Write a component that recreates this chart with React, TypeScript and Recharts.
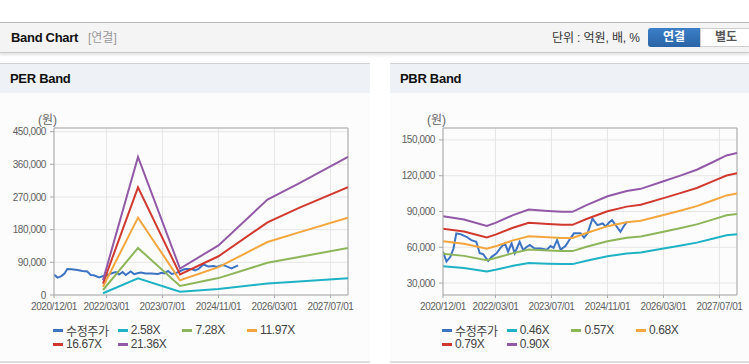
import React from 'react';
import { LineChart, Line, XAxis, YAxis, CartesianGrid, ReferenceLine } from 'recharts';

// x positions are month indexes counted from 2020/12/01
const xTickMonths = [0, 15, 31, 47, 63, 79];
const xTickLabels = ['2020/12/01', '2022/03/01', '2023/07/01', '2024/11/01', '2026/03/01', '2027/07/01'];

const priceMonths = [0, 1, 2.1, 3, 3.8, 5, 6.7, 8.1, 9.5, 10.5, 11.4, 12.9, 13.9, 15.3, 16.7, 17.7, 18.6, 19.6, 20.5, 21.9, 22.9, 23.8, 24.8, 26.2, 27.8, 29.7, 30.7, 31.6, 32.6, 33.6, 35, 36.4, 37.4, 39.3, 40.3, 41.3, 42.7, 44.1, 45.6, 46.5, 47.5, 48.3, 50.7, 51.5, 52.6];
const priceValues = [56300, 48000, 52000, 59000, 71700, 71000, 68800, 66000, 64600, 55000, 54400, 48600, 52000, 55000, 60500, 63300, 56300, 63300, 55000, 64600, 57600, 60000, 62000, 59000, 59000, 58000, 61000, 59500, 66000, 58000, 61000, 67500, 71700, 71700, 68000, 71700, 84000, 78600, 80000, 77500, 81000, 82800, 73000, 77000, 81500];

const perMonths = [14, 24, 36, 47, 61, 70, 84];
const per258 = [4900, 45900, 8800, 16500, 31500, 37200, 45900];
const per728 = [13800, 129600, 24800, 46600, 88800, 104800, 129600];
const per1197 = [22700, 213100, 40700, 76600, 146000, 172400, 213100];
const per1667 = [31700, 296700, 56700, 106700, 200000, 240000, 296700];
const per2136 = [40600, 380200, 72600, 136700, 263000, 307600, 380200];
const perLabels = ['2.58X', '7.28X', '11.97X', '16.67X', '21.36X'];
const perTicks = [0, 90000, 180000, 270000, 360000, 450000];

const pbrMonths = [0, 6, 12.5, 15, 20, 24.5, 30, 34, 37, 41, 47, 52.5, 56.5, 63, 68, 72.5, 77, 81, 84];
const pbr046 = [44000, 42600, 39700, 41100, 44500, 46900, 46300, 45900, 45900, 48700, 52500, 54800, 55700, 58900, 61500, 63900, 67100, 70000, 71000];
const pbr057 = [54500, 52800, 49200, 51000, 55100, 58100, 57300, 56800, 56800, 60400, 65100, 67900, 69000, 73000, 76200, 79200, 83200, 86800, 88000];
const pbr068 = [65000, 63000, 58800, 60800, 65800, 69300, 68400, 67800, 67800, 72000, 77700, 81000, 82300, 87100, 90900, 94500, 99200, 103500, 105000];
const pbr079 = [75500, 73200, 68300, 70600, 76400, 80500, 79500, 78800, 78800, 83700, 90200, 94100, 95700, 101200, 105600, 109700, 115300, 120200, 122000];
const pbr090 = [86000, 83300, 77800, 80500, 87000, 91700, 90500, 89700, 89700, 95300, 102800, 107200, 109000, 115300, 120300, 125000, 131300, 137000, 139000];
const pbrLabels = ['0.46X', '0.57X', '0.68X', '0.79X', '0.90X'];
const pbrTicks = [30000, 60000, 90000, 120000, 150000];

const priceLabel = '수정주가';
const priceColor = '#3c73c2';
const bandColors = ['#1fb2c4', '#8db55a', '#f4a63e', '#d1392f', '#925aa6'];

const FONT = '"Liberation Sans", Arial, "Noto Sans CJK KR", sans-serif';

const toPoints = (months: number[], values: number[]) => months.map((m, i) => ({ m, v: values[i] }));
const priceData = toPoints(priceMonths, priceValues);

const fmtMonth = (m: number) => {
    const i = xTickMonths.indexOf(m);
    return i >= 0 ? xTickLabels[i] : '';
};
const fmtWon = (v: number) => v.toLocaleString('en-US');

const XTick = (props: any) => (
    <text x={props.x} y={props.y} dy="0.71em" textAnchor="middle" fill="#5f5f5f"
        fontSize={10} fontFamily={FONT} letterSpacing={-0.4}>
        {fmtMonth(props.payload.value)}
    </text>
);
const YTick = (props: any) => (
    <text x={props.x} y={props.y} dy="0.355em" textAnchor="end" fill="#5f5f5f"
        fontSize={10} fontFamily={FONT} letterSpacing={-0.4}>
        {fmtWon(props.payload.value)}
    </text>
);

function BandPanel({ title, left, width, yWidth, rightMargin, domain, ticks, bandMonths, bands, labels }: any) {
    const plotLeft = left + yWidth;
    return (
        <>
            <div style={{ position: 'absolute', left, top: 63, width, height: 300, background: '#fcfcfd', borderTop: '1px solid #cfd2d6', borderBottom: '2px solid #dedede', boxSizing: 'border-box' }} />
            <div style={{ position: 'absolute', left, top: 64, width, height: 29, background: '#eef1f6' }} />
            <div style={{ position: 'absolute', left: left + 10, top: 64, height: 29, lineHeight: '30px', fontSize: 13, fontWeight: 'bold', color: '#111', letterSpacing: -0.3, fontFamily: FONT }}>
                {title}
            </div>
            <div style={{ position: 'absolute', left: plotLeft - 16, top: 110, fontSize: 12, color: '#666', fontFamily: FONT }}>(원)</div>
            <div style={{ position: 'absolute', left, top: 100 }}>
                <LineChart width={width} height={215} margin={{ top: 28, right: rightMargin, left: 0, bottom: 0 }}>
                    <CartesianGrid stroke="#e6e6e6" />
                    <XAxis dataKey="m" type="number" domain={[0, 84]} ticks={xTickMonths} allowDataOverflow
                        stroke="#a9a9a9" tickSize={3} tickMargin={5} height={20} tick={<XTick />} />
                    <YAxis type="number" domain={domain} ticks={ticks} allowDataOverflow width={yWidth}
                        stroke="#a9a9a9" tickSize={4} tickMargin={4} tick={<YTick />} />
                    <ReferenceLine x={84} stroke="#a9a9a9" />
                    <ReferenceLine y={domain[1]} stroke="#a9a9a9" />
                    <Line data={priceData} dataKey="v" stroke={priceColor} strokeWidth={2} dot={false} isAnimationActive={false} />
                    {bands.map((vals: number[], i: number) => (
                        <Line key={labels[i]} data={toPoints(bandMonths, vals)} dataKey="v" stroke={bandColors[i]}
                            strokeWidth={2} dot={false} isAnimationActive={false} />
                    ))}
                </LineChart>
            </div>
            {[priceLabel, ...labels].map((name: string, i: number) => {
                const col = i % 4;
                const row = Math.floor(i / 4);
                const color = i === 0 ? priceColor : bandColors[i - 1];
                return (
                    <div key={name} style={{ position: 'absolute', left: plotLeft - 1 + col * 64.7, top: 322 + row * 14, height: 16, display: 'flex', alignItems: 'center', fontFamily: FONT, fontSize: 12, color: '#444', letterSpacing: -0.4 }}>
                        <span style={{ display: 'inline-block', width: 10, height: 3, background: color, marginRight: 3 }} />
                        {name}
                    </div>
                );
            })}
        </>
    );
}

export default function App() {
    return (
        <div style={{ position: 'absolute', left: 0, top: 0, width: 749, height: 364, background: '#fff', overflow: 'hidden', fontFamily: FONT }}>
            <div style={{ position: 'absolute', left: 0, top: 22, width: 749, height: 31, background: '#f4f4f4', borderTop: '1px solid #b9b9b9', borderBottom: '1px solid #c9c9c9', boxShadow: '0 2px 3px rgba(0,0,0,0.12)', boxSizing: 'border-box' }} />
            <div style={{ position: 'absolute', left: 11, top: 23, lineHeight: '30px', fontSize: 13, fontWeight: 'bold', color: '#111', letterSpacing: -0.3 }}>Band Chart</div>
            <div style={{ position: 'absolute', left: 88, top: 23, lineHeight: '30px', fontSize: 12, color: '#999' }}>[연결]</div>
            <div style={{ position: 'absolute', left: 552, top: 23, lineHeight: '30px', fontSize: 12, color: '#333', letterSpacing: -0.1 }}>단위 : 억원, 배, %</div>
            <div style={{ position: 'absolute', left: 648, top: 28, width: 52, height: 19, borderRadius: '3px 0 0 3px', background: 'linear-gradient(#3b7fc7, #2a64a6)', color: '#fff', fontSize: 12, fontWeight: 'bold', textAlign: 'center', lineHeight: '19px' }}>연결</div>
            <div style={{ position: 'absolute', left: 700, top: 28, width: 52, height: 19, border: '1px solid #cfcfcf', boxSizing: 'border-box', background: '#fff', color: '#555', fontSize: 12, fontWeight: 'bold', textAlign: 'center', lineHeight: '17px' }}>별도</div>

            <BandPanel title="PER Band" left={0} width={370} yWidth={54} rightMargin={22}
                domain={[0, 460000]} ticks={perTicks} bandMonths={perMonths}
                bands={[per258, per728, per1197, per1667, per2136]} labels={perLabels} />
            <BandPanel title="PBR Band" left={390} width={359} yWidth={53} rightMargin={12}
                domain={[20000, 160000]} ticks={pbrTicks} bandMonths={pbrMonths}
                bands={[pbr046, pbr057, pbr068, pbr079, pbr090]} labels={pbrLabels} />
        </div>
    );
}
